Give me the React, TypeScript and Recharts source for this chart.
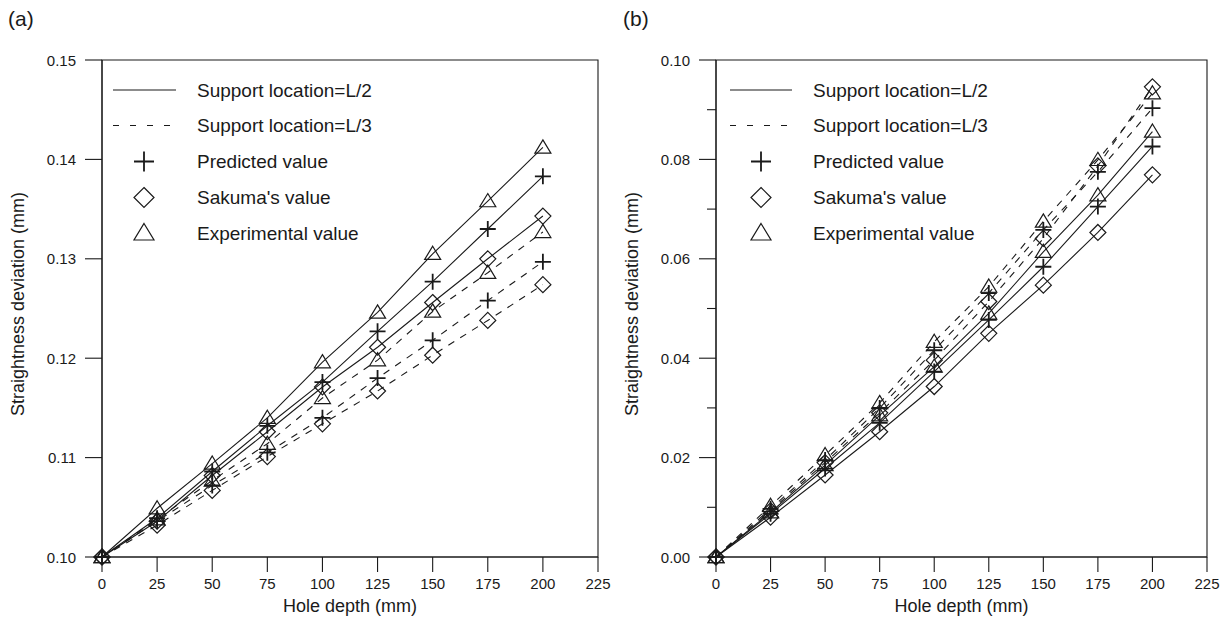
import React from 'react';
import { LineChart, Line, XAxis, YAxis, ReferenceArea } from 'recharts';

const FONT = '"Liberation Sans", Arial, Helvetica, sans-serif';
const INK = '#1a1a1a';

// ---------- data ----------
const depths = [0, 25, 50, 75, 100, 125, 150, 175, 200];
const xTicks = [0, 25, 50, 75, 100, 125, 150, 175, 200, 225];

// Panel (a)
const aPredL2 = [0.1, 0.1039, 0.1086, 0.1132, 0.1176, 0.1227, 0.1277, 0.133, 0.1383];
const aSakL2 = [0.1, 0.1036, 0.1082, 0.1126, 0.1171, 0.1211, 0.1256, 0.13, 0.1343];
const aExpL2 = [0.1, 0.1049, 0.1094, 0.114, 0.1196, 0.1246, 0.1305, 0.1358, 0.1412];
const aPredL3 = [0.1, 0.1036, 0.1072, 0.1105, 0.114, 0.118, 0.1218, 0.1258, 0.1297];
const aSakL3 = [0.1, 0.1032, 0.1067, 0.1101, 0.1134, 0.1167, 0.1203, 0.1238, 0.1274];
const aExpL3 = [0.1, 0.1038, 0.1077, 0.1114, 0.116, 0.1198, 0.1247, 0.1286, 0.1327];
const aYTicks = [0.1, 0.11, 0.12, 0.13, 0.14, 0.15];
const aYMajor = [0.1, 0.11, 0.12, 0.13, 0.14, 0.15];

// Panel (b)
const bPredL2 = [0, 0.0087, 0.0178, 0.027, 0.0373, 0.0477, 0.0584, 0.0705, 0.0826];
const bSakL2 = [0, 0.008, 0.0165, 0.0252, 0.0343, 0.045, 0.0547, 0.0653, 0.0769];
const bExpL2 = [0, 0.009, 0.0185, 0.0285, 0.0383, 0.049, 0.0614, 0.0728, 0.0856];
const bPredL3 = [0, 0.0097, 0.0195, 0.03, 0.0416, 0.0531, 0.0658, 0.0775, 0.0903];
const bSakL3 = [0, 0.0093, 0.019, 0.029, 0.0396, 0.0514, 0.0641, 0.0787, 0.0946];
const bExpL3 = [0, 0.0103, 0.0205, 0.031, 0.0433, 0.0544, 0.0675, 0.0799, 0.0933];
const bYTicks = [0, 0.01, 0.02, 0.03, 0.04, 0.05, 0.06, 0.07, 0.08, 0.09, 0.1];
const bYMajor = [0, 0.02, 0.04, 0.06, 0.08, 0.1];

const legendLabels = [
  'Support location=L/2',
  'Support location=L/3',
  'Predicted value',
  "Sakuma's value",
  'Experimental value',
];
const xTitle = 'Hole depth (mm)';
const yTitle = 'Straightness deviation (mm)';

type Sym = 'plus' | 'diamond' | 'triangle';

const seriesDefs: { key: string; sym: Sym; dashed: boolean }[] = [
  { key: 'predL3', sym: 'plus', dashed: true },
  { key: 'sakL3', sym: 'diamond', dashed: true },
  { key: 'expL3', sym: 'triangle', dashed: true },
  { key: 'predL2', sym: 'plus', dashed: false },
  { key: 'sakL2', sym: 'diamond', dashed: false },
  { key: 'expL2', sym: 'triangle', dashed: false },
];

function buildRows(vals: Record<string, number[]>) {
  return depths.map((d, i) => {
    const r: any = { depth: d };
    Object.keys(vals).forEach((k) => {
      r[k] = vals[k][i];
    });
    return r;
  });
}

const dataA = buildRows({
  predL2: aPredL2, sakL2: aSakL2, expL2: aExpL2,
  predL3: aPredL3, sakL3: aSakL3, expL3: aExpL3,
});
const dataB = buildRows({
  predL2: bPredL2, sakL2: bSakL2, expL2: bExpL2,
  predL3: bPredL3, sakL3: bSakL3, expL3: bExpL3,
});

// ---------- markers ----------
function Marker({ cx, cy, sym, s }: { cx: number; cy: number; sym: Sym; s: number }) {
  if (cx == null || cy == null) return <g />;
  if (sym === 'plus') {
    return (
      <path
        d={`M${cx - s},${cy}H${cx + s}M${cx},${cy - s}V${cy + s}`}
        stroke={INK}
        strokeWidth={1.8}
        fill="none"
      />
    );
  }
  if (sym === 'diamond') {
    return (
      <path
        d={`M${cx},${cy - s}L${cx + s},${cy}L${cx},${cy + s}L${cx - s},${cy}Z`}
        stroke={INK}
        strokeWidth={1.2}
        fill="none"
      />
    );
  }
  return (
    <path
      d={`M${cx},${cy - s * 0.95}L${cx + s},${cy + s * 0.7}L${cx - s},${cy + s * 0.7}Z`}
      stroke={INK}
      strokeWidth={1.2}
      fill="none"
    />
  );
}

const makeYTick = (majors: number[], digits: number) => (props: any) => {
  const { x, y, payload } = props;
  const v = payload.value as number;
  const isMajor = majors.some((m) => Math.abs(m - v) < 1e-9);
  if (!isMajor) {
    return <line x1={x - 9} x2={x} y1={y} y2={y} stroke={INK} strokeWidth={1.1} />;
  }
  return (
    <g>
      <line x1={x - 17} x2={x} y1={y} y2={y} stroke={INK} strokeWidth={1.1} />
      <text
        x={x - 26}
        y={y}
        textAnchor="end"
        dominantBaseline="central"
        fontSize={15}
        fontFamily={FONT}
        fill={INK}
      >
        {v.toFixed(digits)}
      </text>
    </g>
  );
};

function LegendOverlay({ lineX1, lineX2, markX, textX }: { lineX1: number; lineX2: number; markX: number; textX: number }) {
  const rows = [90, 125.5, 161.5, 197.5, 233];
  return (
    <svg
      width={615}
      height={617}
      style={{ position: 'absolute', left: 0, top: 0, pointerEvents: 'none' }}
    >
      <line x1={lineX1} x2={lineX2} y1={rows[0]} y2={rows[0]} stroke={INK} strokeWidth={1.1} />
      <line
        x1={lineX1}
        x2={lineX2}
        y1={rows[1]}
        y2={rows[1]}
        stroke={INK}
        strokeWidth={1.1}
        strokeDasharray="6 11"
      />
      <Marker cx={markX} cy={rows[2]} sym="plus" s={10} />
      <Marker cx={markX} cy={rows[3]} sym="diamond" s={10} />
      <Marker cx={markX} cy={rows[4]} sym="triangle" s={10} />
      {legendLabels.map((t, i) => (
        <text
          key={t}
          x={textX}
          y={rows[i]}
          dominantBaseline="central"
          fontSize={19}
          fontFamily={FONT}
          fill={INK}
        >
          {t}
        </text>
      ))}
    </svg>
  );
}

function Panel({
  left,
  tag,
  data,
  domain,
  yTicks,
  yMajor,
  yAxisWidth,
  rightMargin,
  yTitleX,
  legend,
}: any) {
  const plotLeft = yAxisWidth;
  const plotRight = 615 - rightMargin;
  return (
    <div style={{ position: 'absolute', left, top: 0, width: 615, height: 617 }}>
      <LineChart
        width={615}
        height={617}
        data={data}
        margin={{ top: 60, right: rightMargin, bottom: 0, left: 0 }}
      >
        <XAxis
          dataKey="depth"
          type="number"
          domain={[0, 225]}
          ticks={xTicks}
          interval={0}
          height={60}
          tickSize={15}
          tickMargin={6}
          stroke={INK}
          strokeWidth={1.1}
          tick={{ fontSize: 15, fontFamily: FONT, fill: INK }}
          label={{
            content: () => (
              <text
                x={(plotLeft + plotRight) / 2}
                y={606}
                textAnchor="middle"
                dominantBaseline="central"
                fontSize={18}
                fontFamily={FONT}
                fill={INK}
              >
                {xTitle}
              </text>
            ),
          }}
        />
        <YAxis
          type="number"
          domain={domain}
          ticks={yTicks}
          interval={0}
          width={yAxisWidth}
          tickLine={false}
          tickSize={0}
          tickMargin={0}
          stroke={INK}
          strokeWidth={1.1}
          tick={makeYTick(yMajor, 2)}
          label={{
            content: () => (
              <text
                x={yTitleX}
                y={304}
                transform={`rotate(-90 ${yTitleX} 304)`}
                textAnchor="middle"
                dominantBaseline="central"
                fontSize={18}
                fontFamily={FONT}
                fill={INK}
              >
                {yTitle}
              </text>
            ),
          }}
        />
        <ReferenceArea
          x1={0}
          x2={225}
          y1={domain[0]}
          y2={domain[1]}
          fill="none"
          stroke={INK}
          strokeWidth={1.1}
          ifOverflow="visible"
        />
        {seriesDefs.map((sd) => (
          <Line
            key={sd.key}
            dataKey={sd.key}
            type="linear"
            stroke={INK}
            strokeWidth={1.1}
            strokeDasharray={sd.dashed ? '7 7' : undefined}
            isAnimationActive={false}
            activeDot={false}
            dot={(p: any) => (
              <Marker key={`${sd.key}-${p.index}`} cx={p.cx} cy={p.cy} sym={sd.sym} s={8} />
            )}
          />
        ))}
      </LineChart>
      <LegendOverlay {...legend} />
      <div
        style={{
          position: 'absolute',
          left: 8,
          top: 5,
          fontFamily: FONT,
          fontSize: 21,
          color: INK,
          lineHeight: '28px',
        }}
      >
        {tag}
      </div>
    </div>
  );
}

export default function App() {
  return (
    <div
      style={{
        position: 'absolute',
        left: 0,
        top: 0,
        width: 1230,
        height: 617,
        background: '#fff',
        overflow: 'hidden',
      }}
    >
      <Panel
        left={0}
        tag="(a)"
        data={dataA}
        domain={[0.1, 0.15]}
        yTicks={aYTicks}
        yMajor={aYMajor}
        yAxisWidth={102}
        rightMargin={17}
        yTitleX={18}
        legend={{ lineX1: 113, lineX2: 176, markX: 144, textX: 197 }}
      />
      <Panel
        left={615}
        tag="(b)"
        data={dataB}
        domain={[0, 0.1]}
        yTicks={bYTicks}
        yMajor={bYMajor}
        yAxisWidth={101}
        rightMargin={23}
        yTitleX={17}
        legend={{ lineX1: 115, lineX2: 177, markX: 146, textX: 198 }}
      />
    </div>
  );
}
